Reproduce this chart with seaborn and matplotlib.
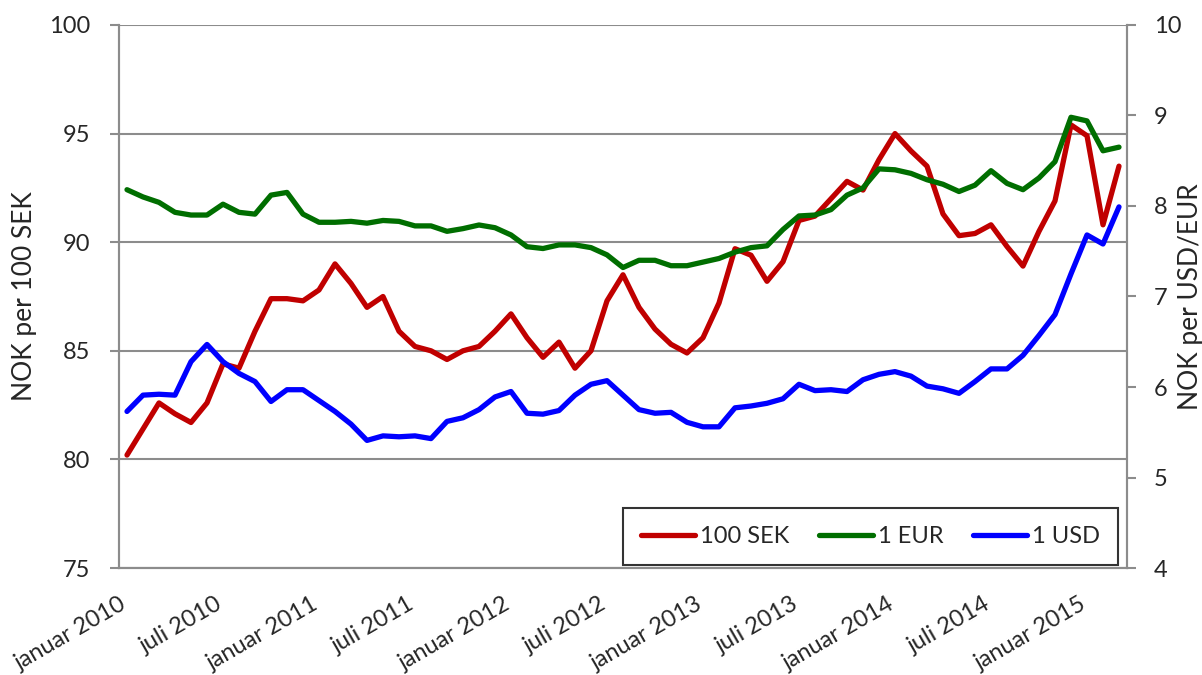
import matplotlib
matplotlib.use("Agg")
import matplotlib.pyplot as plt
import matplotlib.transforms as mtransforms
import pandas as pd
import seaborn as sns

# monthly values, januar 2010 - mars 2015
sek = [80.2, 81.4, 82.6, 82.1, 81.7, 82.6, 84.4, 84.2, 85.9, 87.4, 87.4, 87.3,
       87.8, 89.0, 88.1, 87.0, 87.5, 85.9, 85.2, 85.0, 84.6, 85.0, 85.2, 85.9,
       86.7, 85.6, 84.7, 85.4, 84.2, 85.0, 87.3, 88.5, 87.0, 86.0, 85.3, 84.9,
       85.6, 87.2, 89.7, 89.4, 88.2, 89.1, 91.0, 91.2, 92.0, 92.8, 92.4, 93.8,
       95.0, 94.2, 93.5, 91.3, 90.3, 90.4, 90.8, 89.8, 88.9, 90.5, 91.9, 95.4,
       94.9, 90.8, 93.5]
eur = [8.18, 8.10, 8.04, 7.93, 7.90, 7.90, 8.02, 7.93, 7.91, 8.12, 8.15, 7.91,
       7.82, 7.82, 7.83, 7.81, 7.84, 7.83, 7.78, 7.78, 7.72, 7.75, 7.79, 7.76,
       7.68, 7.55, 7.53, 7.57, 7.57, 7.54, 7.46, 7.32, 7.40, 7.40, 7.34, 7.34,
       7.38, 7.42, 7.49, 7.54, 7.56, 7.74, 7.89, 7.90, 7.96, 8.12, 8.20, 8.41,
       8.40, 8.36, 8.29, 8.24, 8.16, 8.23, 8.39, 8.25, 8.18, 8.31, 8.49, 8.98,
       8.94, 8.61, 8.65]
usd = [5.73, 5.91, 5.92, 5.91, 6.28, 6.47, 6.28, 6.15, 6.06, 5.84, 5.97, 5.97,
       5.85, 5.73, 5.59, 5.41, 5.46, 5.45, 5.46, 5.43, 5.62, 5.66, 5.75, 5.89,
       5.95, 5.71, 5.70, 5.74, 5.91, 6.03, 6.07, 5.91, 5.75, 5.71, 5.72, 5.61,
       5.56, 5.56, 5.77, 5.79, 5.82, 5.87, 6.03, 5.96, 5.97, 5.95, 6.08, 6.14,
       6.17, 6.12, 6.01, 5.98, 5.93, 6.06, 6.20, 6.20, 6.35, 6.57, 6.80, 7.25,
       7.68, 7.58, 7.99]

tick_labels = ["januar 2010", "juli 2010", "januar 2011", "juli 2011",
               "januar 2012", "juli 2012", "januar 2013", "juli 2013",
               "januar 2014", "juli 2014", "januar 2015"]

RED, GREEN, BLUE = "#C00000", "#006E00", "#0000FF"
GRID = "#8C8C8C"


def show_chart():
    df = pd.DataFrame({
        "maaned": [i + 0.5 for i in range(len(sek))],
        "100 SEK": sek,
        "1 EUR": eur,
        "1 USD": usd,
    })

    sns.set_style("white")
    plt.rcParams["font.family"] = ["Lato", "DejaVu Sans"]

    fig = plt.figure(figsize=(12.02, 6.75), dpi=100)
    ax = fig.add_axes([0.099, 0.1585, 0.8386, 0.8045])
    ax2 = ax.twinx()

    sns.lineplot(data=df, x="maaned", y="100 SEK", ax=ax, color=RED, lw=3.8, label="100 SEK", legend=False)
    sns.lineplot(data=df, x="maaned", y="1 EUR", ax=ax2, color=GREEN, lw=3.8, label="1 EUR", legend=False)
    sns.lineplot(data=df, x="maaned", y="1 USD", ax=ax2, color=BLUE, lw=3.8, label="1 USD", legend=False)

    ax.set_xlim(0, len(sek))
    ax.set_ylim(75, 100)
    ax2.set_ylim(4, 10)
    ax.set_yticks(range(75, 101, 5))
    ax2.set_yticks(range(4, 11))
    ax.set_xticks(range(0, 61, 6))
    ax.set_xticklabels(tick_labels, rotation=30, ha="right", va="top", rotation_mode="anchor")
    # Excel puts the end of each slanted label a bit right of its tick
    shift = mtransforms.ScaledTranslation(8 / 100, 0, fig.dpi_scale_trans)
    for lbl in ax.get_xticklabels():
        lbl.set_transform(lbl.get_transform() + shift)

    ax.grid(axis="y", color=GRID, lw=1.5)
    ax.set_axisbelow(True)
    for a in (ax, ax2):
        for s in a.spines.values():
            s.set_color(GRID)
            s.set_linewidth(1.5)
        a.spines["top"].set_visible(False)
    ax.tick_params(axis="x", direction="out", length=6, width=1.5, color=GRID, labelsize=17, pad=12)
    ax.tick_params(axis="y", direction="out", length=6.5, width=1.5, color=GRID, labelsize=17, left=True, pad=14)
    ax2.tick_params(axis="y", direction="out", length=6.5, width=1.5, color=GRID, labelsize=17, right=True, pad=13)

    ax.set_xlabel("")
    ax.set_ylabel("NOK per 100 SEK", fontsize=19)
    ax2.set_ylabel("NOK per USD/EUR", fontsize=19)
    ax.yaxis.set_label_coords(-0.081, 0.5)
    ax2.yaxis.set_label_coords(1.051, 0.5)

    h1, l1 = ax.get_legend_handles_labels()
    h2, l2 = ax2.get_legend_handles_labels()
    leg = ax2.legend(h1 + h2, l1 + l2, loc="lower right", bbox_to_anchor=(0.991, 0.006),
                     ncol=3, fontsize=17, frameon=True, fancybox=False, borderaxespad=0,
                     handlelength=2.3, handletextpad=0.2, columnspacing=1.25, borderpad=0.75)
    leg.get_frame().set_edgecolor("black")
    leg.get_frame().set_linewidth(1.5)

    fig.savefig("out.png", dpi=100)


if __name__ == '__main__':
    show_chart()
